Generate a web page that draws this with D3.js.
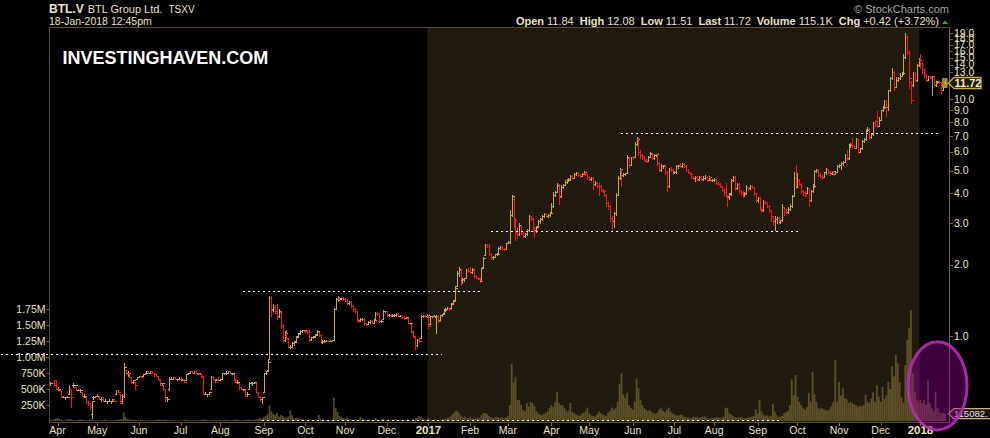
<!DOCTYPE html>
<html><head><meta charset="utf-8">
<script src="https://cdn.jsdelivr.net/npm/d3@7/dist/d3.min.js"></script>
<style>
html,body{margin:0;padding:0;background:#000;}
svg{display:block;}
text{font-family:"Liberation Sans",Arial,sans-serif;}
</style></head><body>
<svg id="chart" width="990" height="438"></svg>
<script>
// ---------------- DATA ----------------
const symbol = "BTL.V", company = "BTL Group Ltd.", exchange = "TSXV";
const stamp = "18-Jan-2018 12:45pm";
const watermark = "INVESTINGHAVEN.COM";
const firstTradingDay = "2016-03-28";
const monthLabels = ["Apr","May","Jun","Jul","Aug","Sep","Oct","Nov","Dec","2017","Feb","Mar","Apr","May","Jun","Jul","Aug","Sep","Oct","Nov","Dec","2018"];
// 11.0 and 12.0 sit under the last-price tag in the reference, so they are not drawn
const priceTicks = [1,2,3,4,5,6,7,8,9,10,13,14,15,16,17,18,19];
const volumeTicks = [250000,500000,750000,1000000,1250000,1500000,1750000];
const volumeTickLabels = ["250K","500K","750K","1.00M","1.25M","1.50M","1.75M"];
const infoLabels = ["Open","High","Low","Last","Volume","Chg"];
const infoValues = ["11.84","12.08","11.51","11.72","115.1K","+0.42 (+3.72%)"];
const lastPriceLabel = "11.72";
const lastVolumeLabel = "115082.";
// dotted horizontal levels (price, from bar index, to bar index)
const levelPrice = [0.84, 1.55, 2.77, 7.18, 0.443];
const levelFrom  = [-26, 102, 233, 302, 112];
const levelTo    = [207, 229, 396, 471, 385];

const openP = [
.63,.63,.63,.65,.60,.60,.59,.55,.55,.55,
.57,.60,.62,.62,.61,.59,.59,.58,.56,.55,
.53,.52,.47,.55,.55,.56,.55,.54,.54,.53,
.53,.53,.53,.53,.54,.57,.59,.57,.53,.56,
.72,.70,.70,.67,.64,.64,.66,.67,.68,.68,
.69,.70,.71,.70,.71,.70,.69,.68,.65,.63,
.62,.60,.55,.60,.66,.66,.67,.66,.66,.66,
.65,.66,.65,.69,.70,.71,.70,.71,.70,.70,
.69,.68,.57,.57,.57,.60,.67,.66,.65,.66,
.65,.66,.70,.70,.70,.71,.70,.69,.65,.64,
.63,.61,.60,.59,.57,.60,.63,.63,.63,.63,
.58,.55,.54,.58,.70,.72,.80,1.45,1.30,1.33,
1.25,1.22,1.26,1.10,.96,1.00,.98,.90,.90,.93,
.95,1.00,1.03,1.05,1.06,1.05,1.05,1.04,.97,.99,
1.00,1.02,1.04,1.01,.94,.95,.95,.96,.95,.95,
.96,1.30,1.43,1.44,1.44,1.45,1.43,1.41,1.38,1.39,
1.34,1.30,1.27,1.17,1.17,1.18,1.18,1.13,1.12,1.15,
1.16,1.14,1.18,1.25,1.24,1.16,1.18,1.27,1.27,1.23,
1.23,1.22,1.23,1.23,1.24,1.22,1.22,1.20,1.19,1.19,
1.13,1.12,1.04,.99,.92,.96,.98,1.21,1.22,1.21,
1.22,1.12,1.21,1.22,1.20,1.21,1.17,1.23,1.25,1.29,
1.30,1.31,1.31,1.38,1.42,1.62,1.85,1.90,1.72,1.74,
1.76,1.90,1.88,1.87,1.90,1.80,1.76,1.74,1.71,1.95,
2.20,2.42,2.40,2.22,2.15,2.16,2.21,2.24,2.36,2.38,
2.33,2.34,2.48,2.50,3.25,3.80,3.10,2.75,2.70,2.92,
2.72,2.65,2.70,2.80,3.20,3.12,2.85,2.80,2.92,3.05,
3.12,3.22,3.28,3.22,3.26,3.30,3.55,3.95,4.05,4.30,
3.90,4.25,4.35,4.47,4.55,4.60,4.75,4.65,4.85,4.90,
4.80,4.75,4.85,4.90,4.85,4.68,4.60,4.65,4.40,4.45,
4.30,4.30,4.15,4.10,3.95,3.65,3.55,3.15,3.05,3.30,
3.95,4.65,5.05,4.80,4.85,4.90,5.65,5.30,5.70,5.70,
6.45,6.80,6.00,5.80,5.75,5.55,5.50,5.72,5.90,5.65,
5.80,5.85,5.40,5.05,5.25,5.25,4.95,4.30,5.10,5.05,
4.92,4.95,5.25,5.25,5.22,5.35,5.25,5.05,4.92,4.85,
4.70,4.65,4.70,4.60,4.70,4.60,4.65,4.68,4.55,4.68,
4.55,4.58,4.60,4.45,4.40,4.30,4.15,4.05,3.90,3.85,
4.00,4.55,4.70,4.20,4.40,4.10,4.05,3.98,4.00,4.25,
4.22,4.30,4.25,4.00,3.75,3.82,3.45,3.40,3.70,3.65,
3.55,3.40,3.20,3.05,3.12,3.15,3.03,3.08,3.50,3.35,
3.33,3.45,3.55,3.92,4.66,4.28,4.56,4.40,4.10,4.05,
4.02,4.20,3.75,4.10,4.30,4.98,5.05,4.80,4.75,4.70,
4.92,5.06,4.95,4.88,4.97,4.85,4.95,5.25,5.30,5.38,
5.45,5.65,5.65,6.40,6.45,6.35,6.25,6.80,6.00,6.20,
6.66,6.80,7.42,7.50,6.90,7.15,7.95,8.10,7.75,8.20,
9.00,9.25,9.85,9.30,10.90,12.30,13.10,11.30,12.10,12.30,
12.60,12.90,15.10,18.40,15.90,11.80,11.50,12.80,12.10,14.00,
14.70,14.20,13.40,12.80,12.10,12.50,12.45,12.50,11.45,11.85,
11.95,11.80,11.00,11.84];

const highP = [
.64,.63,.65,.65,.61,.60,.59,.56,.55,.56,
.62,.60,.63,.62,.61,.60,.60,.58,.57,.55,
.53,.52,.53,.56,.56,.57,.56,.55,.55,.54,
.53,.54,.53,.54,.54,.59,.59,.57,.57,.77,
.72,.71,.70,.67,.65,.64,.67,.68,.68,.69,
.70,.71,.71,.71,.71,.70,.69,.68,.65,.63,
.62,.60,.55,.67,.67,.67,.67,.66,.67,.67,
.66,.66,.69,.70,.71,.71,.71,.71,.70,.70,
.69,.68,.58,.57,.58,.68,.68,.66,.66,.67,
.66,.70,.70,.71,.71,.71,.70,.69,.66,.65,
.63,.61,.60,.59,.58,.64,.64,.64,.64,.63,
.58,.56,.55,.70,.71,.79,1.48,1.47,1.36,1.35,
1.37,1.30,1.27,1.12,1.05,1.06,.98,.92,.94,.95,
1.00,1.03,1.06,1.06,1.06,1.06,1.06,1.06,.99,1.00,
1.02,1.06,1.04,1.02,.96,.96,.96,.96,.96,.96,
1.31,1.45,1.47,1.46,1.45,1.46,1.45,1.43,1.40,1.40,
1.35,1.31,1.28,1.18,1.19,1.19,1.19,1.14,1.16,1.17,
1.17,1.18,1.26,1.26,1.25,1.17,1.29,1.28,1.28,1.24,
1.24,1.24,1.24,1.25,1.25,1.23,1.23,1.21,1.20,1.19,
1.14,1.12,1.05,.99,.97,.98,1.23,1.23,1.23,1.24,
1.23,1.22,1.22,1.23,1.23,1.22,1.23,1.24,1.30,1.31,
1.32,1.31,1.38,1.42,1.62,1.88,1.96,1.92,1.75,1.76,
1.92,1.94,1.95,1.93,1.91,1.81,1.77,1.74,1.94,2.16,
2.45,2.45,2.44,2.24,2.18,2.22,2.24,2.38,2.40,2.40,
2.36,2.48,2.52,3.40,3.95,3.85,3.15,2.90,3.00,2.95,
2.74,2.72,2.82,3.25,3.22,3.15,2.90,2.92,3.10,3.15,
3.25,3.30,3.32,3.28,3.35,3.65,4.05,4.10,4.45,4.40,
4.35,4.40,4.55,4.60,4.65,4.80,4.78,4.90,4.95,4.92,
4.85,4.90,4.98,4.95,4.88,4.72,4.70,4.68,4.50,4.48,
4.42,4.35,4.18,4.12,3.98,3.70,3.58,3.20,3.35,4.00,
4.75,5.15,5.10,4.90,4.90,5.80,5.70,5.72,5.75,6.60,
6.95,6.85,6.10,5.85,5.78,5.60,5.75,6.00,5.95,5.85,
5.90,5.88,5.42,5.35,5.30,5.28,4.98,5.15,5.20,5.08,
4.98,5.30,5.30,5.40,5.40,5.38,5.28,5.08,4.95,4.88,
4.72,4.75,4.72,4.75,4.75,4.72,4.80,4.72,4.72,4.70,
4.62,4.65,4.62,4.48,4.42,4.32,4.20,4.45,3.95,4.00,
4.60,4.75,4.72,4.45,4.42,4.15,4.08,4.05,4.35,4.28,
4.35,4.35,4.28,4.02,3.85,3.85,3.50,3.75,3.72,3.68,
3.58,3.42,3.22,3.20,3.18,3.18,3.10,3.60,3.52,3.45,
3.50,3.60,3.95,4.95,5.30,4.90,4.60,4.42,4.15,4.10,
4.25,4.22,4.15,4.40,5.05,5.10,5.10,4.88,4.80,4.95,
5.15,5.10,4.98,5.00,5.00,4.98,5.30,5.35,5.45,5.50,
5.85,6.10,6.50,6.55,6.85,6.38,6.85,6.82,6.25,6.70,
6.85,7.50,7.65,7.60,7.20,8.05,8.20,8.90,8.40,9.05,
9.35,9.95,9.90,10.95,12.40,13.60,13.20,12.40,12.40,12.90,
13.10,15.60,19.00,18.70,16.10,11.90,13.00,13.10,14.10,14.90,
15.60,14.40,13.50,12.90,12.60,12.60,12.55,12.60,11.90,12.00,
12.00,11.85,11.45,12.08];

const lowP = [
.62,.63,.62,.60,.59,.59,.55,.55,.54,.55,
.57,.50,.61,.62,.59,.59,.58,.56,.55,.52,
.51,.49,.45,.54,.55,.56,.54,.53,.53,.53,
.52,.53,.52,.53,.53,.57,.58,.52,.52,.55,
.69,.68,.67,.63,.63,.60,.66,.67,.67,.68,
.69,.70,.70,.70,.70,.68,.68,.66,.62,.62,
.59,.53,.53,.59,.66,.66,.66,.65,.66,.65,
.65,.64,.65,.69,.70,.70,.70,.70,.69,.69,
.67,.57,.57,.56,.57,.60,.66,.64,.65,.65,
.65,.66,.69,.69,.70,.70,.69,.65,.64,.63,
.60,.60,.59,.56,.56,.60,.63,.62,.63,.58,
.55,.53,.52,.58,.69,.72,.80,1.22,1.27,1.25,
1.18,1.20,1.08,.94,.95,.97,.90,.89,.90,.92,
.95,.99,1.02,1.04,1.05,1.04,1.03,.95,.96,.98,
.99,1.01,1.00,.93,.93,.94,.95,.95,.95,.95,
.96,1.30,1.40,1.42,1.43,1.42,1.40,1.37,1.36,1.33,
1.28,1.26,1.16,1.15,1.16,1.17,1.12,1.11,1.12,1.14,
1.13,1.14,1.18,1.23,1.15,1.15,1.18,1.26,1.21,1.22,
1.22,1.21,1.22,1.22,1.22,1.21,1.19,1.18,1.19,1.13,
1.12,1.04,.99,.88,.91,.94,.98,1.20,1.20,1.20,
1.08,1.12,1.20,1.21,1.03,1.15,1.17,1.22,1.25,1.28,
1.30,1.29,1.31,1.37,1.42,1.62,1.80,1.65,1.68,1.70,
1.76,1.86,1.85,1.85,1.78,1.75,1.74,1.69,1.70,1.95,
2.20,2.38,2.20,2.12,2.12,2.15,2.19,2.24,2.34,2.32,
2.30,2.34,2.46,2.48,3.20,2.90,2.55,2.60,2.68,2.70,
2.62,2.62,2.68,2.78,3.10,2.78,2.62,2.75,2.90,3.00,
3.10,3.18,3.20,3.18,3.22,3.30,3.50,3.90,4.05,3.62,
3.88,4.20,4.35,4.45,4.50,4.58,4.60,4.65,4.80,4.75,
4.70,4.72,4.82,4.80,4.62,4.55,4.55,4.18,4.35,4.28,
3.95,4.10,4.05,3.90,3.55,3.45,3.05,2.80,2.90,3.25,
3.95,4.60,4.30,4.75,4.80,4.90,5.20,5.28,5.60,5.70,
6.40,5.80,5.65,5.60,5.50,5.45,5.48,5.70,5.60,5.60,
5.75,5.30,5.00,5.00,5.15,4.85,4.10,4.25,4.98,4.85,
4.88,4.90,5.15,5.20,5.20,5.20,5.00,4.90,4.82,4.65,
4.60,4.50,4.55,4.58,4.55,4.55,4.60,4.52,4.55,4.50,
4.50,4.52,4.40,4.35,4.25,4.10,3.95,3.85,3.55,3.80,
3.95,4.50,4.15,4.18,4.00,3.95,3.85,3.90,3.98,4.15,
4.18,4.20,3.95,3.70,3.70,3.40,3.35,3.38,3.60,3.50,
3.35,3.05,2.95,2.80,3.00,3.00,3.00,3.05,3.25,3.28,
3.30,3.40,3.52,3.90,4.20,4.25,4.35,4.00,3.95,3.90,
4.00,3.55,3.72,4.05,4.28,4.95,4.75,4.68,4.60,4.68,
4.85,4.90,4.85,4.85,4.80,4.82,4.92,5.20,5.10,5.30,
5.43,5.55,5.60,6.30,6.30,6.20,6.20,5.95,5.98,6.15,
6.60,6.75,7.35,6.80,6.85,7.10,7.70,7.65,7.72,8.15,
8.90,9.20,8.50,9.00,10.80,12.20,10.90,11.25,11.90,12.20,
12.50,12.80,15.00,15.50,11.20,9.60,11.40,11.90,12.00,13.80,
13.60,12.90,12.30,12.00,12.05,12.30,10.40,11.40,11.40,11.70,
11.70,10.50,10.95,11.51];

const closeP = [
.63,.63,.62,.60,.60,.59,.55,.55,.55,.55,
.60,.55,.62,.62,.59,.59,.59,.56,.56,.53,
.52,.50,.53,.55,.56,.56,.54,.54,.53,.53,
.53,.53,.53,.54,.53,.59,.58,.52,.56,.74,
.70,.70,.67,.64,.65,.62,.67,.68,.67,.69,
.70,.71,.70,.71,.70,.69,.68,.66,.62,.63,
.60,.54,.54,.66,.66,.67,.66,.66,.66,.65,
.66,.64,.69,.70,.71,.70,.71,.70,.70,.69,
.67,.57,.57,.57,.58,.67,.66,.65,.66,.65,
.66,.70,.70,.70,.71,.70,.70,.65,.64,.64,
.61,.60,.60,.57,.57,.63,.63,.63,.64,.58,
.55,.54,.55,.70,.71,.78,1.45,1.29,1.33,1.27,
1.22,1.28,1.10,.96,1.03,.98,.90,.90,.93,.94,
.99,1.02,1.05,1.06,1.06,1.05,1.04,.96,.99,.99,
1.01,1.05,1.01,.94,.95,.95,.96,.95,.95,.96,
1.30,1.43,1.45,1.44,1.45,1.43,1.41,1.38,1.39,1.34,
1.30,1.27,1.17,1.16,1.18,1.18,1.13,1.12,1.15,1.16,
1.14,1.17,1.25,1.24,1.16,1.16,1.27,1.27,1.23,1.23,
1.22,1.23,1.23,1.24,1.22,1.22,1.20,1.19,1.20,1.13,
1.13,1.05,1.00,.92,.96,.95,1.21,1.22,1.21,1.23,
1.10,1.21,1.22,1.22,1.22,1.16,1.23,1.24,1.29,1.30,
1.31,1.30,1.37,1.41,1.60,1.85,1.92,1.72,1.74,1.75,
1.90,1.88,1.86,1.91,1.80,1.76,1.75,1.70,1.93,2.14,
2.42,2.40,2.22,2.15,2.16,2.21,2.22,2.36,2.38,2.33,
2.32,2.47,2.50,3.25,3.90,3.10,2.75,2.70,2.95,2.72,
2.65,2.70,2.80,3.20,3.15,2.85,2.78,2.90,3.05,3.12,
3.22,3.28,3.22,3.26,3.30,3.55,3.95,4.05,4.35,3.85,
4.25,4.35,4.47,4.55,4.60,4.75,4.65,4.85,4.90,4.80,
4.75,4.85,4.92,4.85,4.68,4.60,4.65,4.40,4.45,4.32,
4.30,4.15,4.10,3.95,3.65,3.55,3.15,3.05,3.30,3.95,
4.65,5.10,4.80,4.85,4.88,5.70,5.27,5.70,5.68,6.45,
6.80,6.00,5.80,5.75,5.55,5.50,5.72,5.92,5.65,5.80,
5.85,5.40,5.05,5.25,5.28,4.95,4.30,5.10,5.05,4.92,
4.95,5.25,5.27,5.22,5.35,5.25,5.05,4.92,4.85,4.70,
4.65,4.70,4.58,4.70,4.60,4.65,4.68,4.55,4.68,4.55,
4.58,4.60,4.45,4.40,4.30,4.15,4.05,3.90,3.85,3.98,
4.55,4.70,4.20,4.40,4.10,4.05,3.98,4.00,4.25,4.22,
4.30,4.25,4.00,3.75,3.82,3.45,3.40,3.70,3.65,3.55,
3.40,3.20,3.05,3.12,3.15,3.03,3.08,3.52,3.35,3.33,
3.45,3.55,3.92,4.66,4.28,4.56,4.40,4.10,4.05,4.02,
4.20,3.75,4.10,4.30,4.98,5.05,4.80,4.75,4.70,4.92,
5.06,4.95,4.88,4.97,4.85,4.95,5.25,5.30,5.38,5.45,
5.65,5.62,6.40,6.45,6.35,6.25,6.80,6.00,6.20,6.66,
6.80,7.42,7.50,6.90,7.15,7.95,7.80,7.75,8.20,9.00,
9.25,9.85,9.30,10.90,12.30,13.10,11.30,12.10,12.30,12.60,
12.90,15.10,18.40,15.90,12.30,9.95,12.80,12.10,14.00,14.70,
14.20,13.40,12.80,12.10,12.50,12.45,12.50,11.45,11.85,11.95,
11.80,11.00,11.30,11.72];

// volume in thousands of shares
const volumeK = [
20,15,25,40,45,30,20,15,10,20,
25,30,15,10,12,18,25,20,15,10,
12,20,25,15,10,8,12,10,15,20,
10,12,8,10,15,20,18,25,30,135,
60,30,25,20,15,18,12,10,15,20,
10,12,15,10,8,12,15,20,25,18,
20,25,15,12,10,12,15,10,8,12,
10,15,20,12,10,8,10,12,15,10,
12,25,20,15,10,12,15,20,10,12,
15,10,12,20,15,12,10,15,25,20,
15,10,12,15,20,25,15,12,20,25,
30,50,35,60,80,110,245,150,110,90,
125,70,95,80,60,55,70,160,90,40,
45,50,35,30,25,20,15,25,20,15,
20,15,95,30,25,15,20,15,10,20,
370,200,140,80,60,45,40,55,35,30,
25,20,30,25,70,40,25,20,15,30,
15,20,45,30,20,25,35,20,15,25,
20,15,25,30,20,15,10,20,15,25,
20,15,30,40,50,80,65,40,30,20,
45,25,15,20,10,15,20,30,25,40,
45,60,80,110,150,160,130,90,60,70,
40,45,55,40,30,35,50,45,90,120,
125,110,80,60,40,55,70,60,45,50,
40,60,80,250,890,600,690,330,330,250,
170,150,280,220,300,280,230,150,120,100,
90,110,130,150,200,250,220,300,450,280,
250,240,200,150,160,280,140,120,100,90,
80,110,130,150,210,120,90,80,70,100,
150,120,100,90,80,130,160,210,180,200,
300,580,745,420,360,440,250,200,180,300,
665,510,330,250,200,180,150,170,140,120,
110,130,180,200,160,140,180,210,150,120,
100,90,80,95,100,70,60,55,50,45,
65,60,55,50,60,65,70,50,45,40,
45,50,55,60,50,45,70,210,200,120,
100,80,60,50,55,60,50,45,40,55,
60,70,80,180,120,330,150,100,80,90,
70,80,270,150,90,60,70,80,120,140,
160,250,650,400,720,380,300,250,200,180,
220,440,300,770,420,300,200,190,200,180,
170,160,180,230,300,950,300,610,400,510,
360,340,280,300,280,260,250,220,240,230,
250,410,300,280,350,450,300,560,380,300,
530,350,400,610,500,860,700,1030,900,600,
370,280,875,1270,1450,1730,750,450,330,300,
330,280,330,250,640,280,200,150,460,200,
140,120,130,115];

// ---------------- CHART ----------------
const N = Math.min(openP.length, highP.length, lowP.length, closeP.length, volumeK.length);
const dates = [];
{
  const d = new Date(firstTradingDay + "T12:00:00");
  while (dates.length < N) {
    const wd = d.getDay();
    if (wd !== 0 && wd !== 6) dates.push(new Date(d));
    d.setDate(d.getDate() + 1);
  }
}
const bars = d3.range(N).map(i => ({
  i, date: dates[i], o: openP[i], h: highP[i], l: lowP[i], c: closeP[i], v: volumeK[i] * 1000,
  up: i === 0 ? closeP[i] >= openP[i] : closeP[i] >= closeP[i - 1]
}));

const monthStarts = [];
for (let i = 1; i < N; i++) if (dates[i].getMonth() !== dates[i - 1].getMonth()) monthStarts.push(i);

const P = {left: 49, right: 949, top: 27, bottom: 422};
const x = d3.scaleLinear().domain([-0.5, N - 0.5]).range([49, 946]);
const step = x(1) - x(0);
const y = d3.scaleLog().domain([1, 10]).range([336, 99.3]);
const yv = d3.scaleLinear().domain([0, 1750000]).range([421, 309]);

const GOLD = "#c9aa45", RED = "#ff1414", TXT = "#ece2bf", FRAME = "#5f4e25";
const svg = d3.select("#chart");
svg.append("rect").attr("width", 990).attr("height", 438).attr("fill", "#000");

svg.append("defs").append("clipPath").attr("id", "plotclip")
  .append("rect").attr("x", P.left).attr("y", P.top).attr("width", P.right - P.left).attr("height", P.bottom - P.top);

// 2017 shading
const i2017 = monthStarts[monthLabels.indexOf("2017")];
const i2018 = monthStarts[monthLabels.indexOf("2018")];
svg.append("rect")
  .attr("x", x(i2017 - 0.5)).attr("y", P.top)
  .attr("width", x(i2018 - 0.5) - x(i2017 - 0.5)).attr("height", P.bottom - P.top)
  .attr("fill", "#211a0e");

const plot = svg.append("g").attr("clip-path", "url(#plotclip)");

// volume
plot.append("g").selectAll("rect").data(bars).join("rect")
  .attr("x", d => x(d.i) - step * 0.47)
  .attr("width", step * 0.94)
  .attr("y", d => yv(d.v))
  .attr("height", d => yv(0) - yv(d.v))
  .attr("fill", "#6e622e").attr("fill-opacity", 0.78);

// OHLC bars
const ohlc = plot.append("g").attr("shape-rendering", "crispEdges").attr("stroke-width", 1);
const cx = d => Math.round(x(d.i)) + 0.5;
const ry = v => Math.round(y(v)) + 0.5;
const gBar = ohlc.selectAll("g").data(bars).join("g").attr("stroke", d => d.up ? GOLD : RED);
gBar.append("line").attr("x1", cx).attr("x2", cx).attr("y1", d => Math.round(y(d.h))).attr("y2", d => Math.round(y(d.l)) + 1);
gBar.append("line").attr("x1", d => cx(d) - 2).attr("x2", cx).attr("y1", d => ry(d.o)).attr("y2", d => ry(d.o));
gBar.append("line").attr("x1", cx).attr("x2", d => cx(d) + 2).attr("y1", d => ry(d.c)).attr("y2", d => ry(d.c));

// last bar highlight
const last = bars[N - 1];
svg.append("rect").attr("x", x(last.i) - 3).attr("y", y(last.c) - 5).attr("width", 5.5).attr("height", 10)
  .attr("fill", "#a99f1c").attr("fill-opacity", 0.9);
svg.append("g").attr("stroke", GOLD).attr("shape-rendering", "crispEdges").call(g => {
  g.append("line").attr("x1", cx(last)).attr("x2", cx(last)).attr("y1", Math.round(y(last.h))).attr("y2", Math.round(y(last.l)) + 1);
  g.append("line").attr("x1", cx(last) - 2).attr("x2", cx(last)).attr("y1", ry(last.o)).attr("y2", ry(last.o));
  g.append("line").attr("x1", cx(last)).attr("x2", cx(last) + 2).attr("y1", ry(last.c)).attr("y2", ry(last.c));
});

// dotted levels
svg.append("g").selectAll("line").data(levelPrice).join("line")
  .attr("x1", (p, k) => Math.max(0, x(levelFrom[k])))
  .attr("x2", (p, k) => x(levelTo[k]))
  .attr("y1", p => Math.round(y(p)) + 0.5).attr("y2", p => Math.round(y(p)) + 0.5)
  .attr("stroke", "#ffffff").attr("stroke-width", 1).attr("stroke-dasharray", "2,3")
  .attr("shape-rendering", "crispEdges");

// frame
const frame = svg.append("g").attr("stroke", FRAME).attr("shape-rendering", "crispEdges");
frame.append("line").attr("x1", P.left + 0.5).attr("x2", P.left + 0.5).attr("y1", P.top).attr("y2", P.bottom + 1);
frame.append("line").attr("x1", P.left).attr("x2", P.right + 1).attr("y1", P.top + 0.5).attr("y2", P.top + 0.5);
frame.append("line").attr("x1", P.left).attr("x2", P.right + 1).attr("y1", P.bottom + 0.5).attr("y2", P.bottom + 0.5);
frame.append("line").attr("x1", P.right + 0.5).attr("x2", P.right + 0.5).attr("y1", P.top).attr("y2", P.bottom + 1).attr("stroke", "#7a6633");

// right price axis
const rAxis = svg.append("g");
rAxis.selectAll("line").data(priceTicks).join("line")
  .attr("x1", P.right + 1).attr("x2", P.right + 4)
  .attr("y1", p => Math.round(y(p)) + 0.5).attr("y2", p => Math.round(y(p)) + 0.5)
  .attr("stroke", "#7a6633").attr("shape-rendering", "crispEdges");
rAxis.selectAll("text").data(priceTicks).join("text")
  .attr("x", P.right + 5).attr("y", p => y(p) + 3.6)
  .attr("font-size", 10.5).attr("fill", TXT).text(p => p.toFixed(1));

// left volume axis
const lAxis = svg.append("g");
lAxis.selectAll("line").data(volumeTicks).join("line")
  .attr("x1", P.left - 3).attr("x2", P.left)
  .attr("y1", v => Math.round(yv(v)) + 0.5).attr("y2", v => Math.round(yv(v)) + 0.5)
  .attr("stroke", "#7a6633").attr("shape-rendering", "crispEdges");
lAxis.selectAll("text").data(volumeTicks).join("text")
  .attr("x", P.left - 3.5).attr("y", v => yv(v) + 3.6).attr("text-anchor", "end")
  .attr("font-size", 10.5).attr("fill", TXT).text((v, k) => volumeTickLabels[k]);

// x axis
const xAxis = svg.append("g");
xAxis.selectAll("line").data(monthStarts).join("line")
  .attr("x1", i => Math.round(x(i)) + 0.5).attr("x2", i => Math.round(x(i)) + 0.5)
  .attr("y1", P.bottom + 1).attr("y2", P.bottom + 4)
  .attr("stroke", "#7a6633").attr("shape-rendering", "crispEdges");
xAxis.selectAll("text").data(monthStarts).join("text")
  .attr("x", i => x(i)).attr("y", 433.5).attr("text-anchor", "middle")
  .attr("font-size", (i, k) => /^\d{4}$/.test(monthLabels[k]) ? 11.5 : 10.5)
  .attr("font-weight", (i, k) => /^\d{4}$/.test(monthLabels[k]) ? "bold" : "normal")
  .attr("fill", TXT).text((i, k) => monthLabels[k]);

// header
const head = svg.append("text").attr("x", 49).attr("y", 13.3).attr("fill", TXT);
head.append("tspan").attr("font-size", 12).attr("font-weight", "bold").text(symbol);
head.append("tspan").attr("dx", 4).attr("font-size", 11).text(company);
head.append("tspan").attr("dx", 6).attr("font-size", 10).text(exchange);
svg.append("text").attr("x", 49).attr("y", 25.3).attr("font-size", 10.5).attr("fill", TXT).text(stamp);

svg.append("text").attr("x", 949).attr("y", 13).attr("text-anchor", "end")
  .attr("font-size", 11).attr("fill", "#a8a8a8").text("\u00A9 StockCharts.com");

const info = svg.append("text").attr("x", 939).attr("y", 25).attr("text-anchor", "end")
  .attr("font-size", 11).attr("fill", TXT).style("white-space", "pre");
infoLabels.forEach((lab, k) => {
  info.append("tspan").attr("font-weight", "bold").attr("dx", k ? 6 : 0).text(lab);
  info.append("tspan").attr("dx", 3).text(infoValues[k]);
});
svg.append("path").attr("d", "M942,24 L948,24 L945,20.5 Z").attr("fill", "#1fae2a");

// watermark
svg.append("text").attr("x", 62.5).attr("y", 64).attr("font-size", 18).attr("font-weight", "bold")
  .attr("fill", "#ffffff").text(watermark);

// last price tag
const yl = y(last.c);
svg.append("path")
  .attr("d", `M${P.right - 0.5},${yl} L${P.right + 5},${yl - 5.5} L981,${yl - 5.5} L981,${yl + 5.5} L${P.right + 5},${yl + 5.5} Z`)
  .attr("fill", "#1d1a0a").attr("stroke", "#c8b040").attr("stroke-width", 1.3);
svg.append("text").attr("x", P.right + 5.5).attr("y", yl + 4).attr("font-size", 11).attr("font-weight", "bold")
  .attr("fill", "#f3ecd0").text(lastPriceLabel);

// last volume tag
const yvl = yv(last.v);
svg.append("path")
  .attr("d", `M${P.right - 0.5},${yvl} L${P.right + 5},${yvl - 5} L995,${yvl - 5} L995,${yvl + 5} L${P.right + 5},${yvl + 5} Z`)
  .attr("fill", "#1a1408").attr("stroke", "#cbb47a").attr("stroke-width", 1.2);
svg.append("text").attr("x", P.right + 5).attr("y", yvl + 3.5).attr("font-size", 9.5)
  .attr("fill", "#f0e6ec").text(lastVolumeLabel);

// highlight ellipse
svg.append("ellipse")
  .attr("cx", x(469)).attr("cy", yv(550000))
  .attr("rx", step * 15.6).attr("ry", yv(0) - yv(690000))
  .attr("fill", "rgba(150,0,150,0.40)").attr("stroke", "#b42cb4").attr("stroke-width", 3)
  .attr("stroke-opacity", 0.9);
</script>
</body></html>
